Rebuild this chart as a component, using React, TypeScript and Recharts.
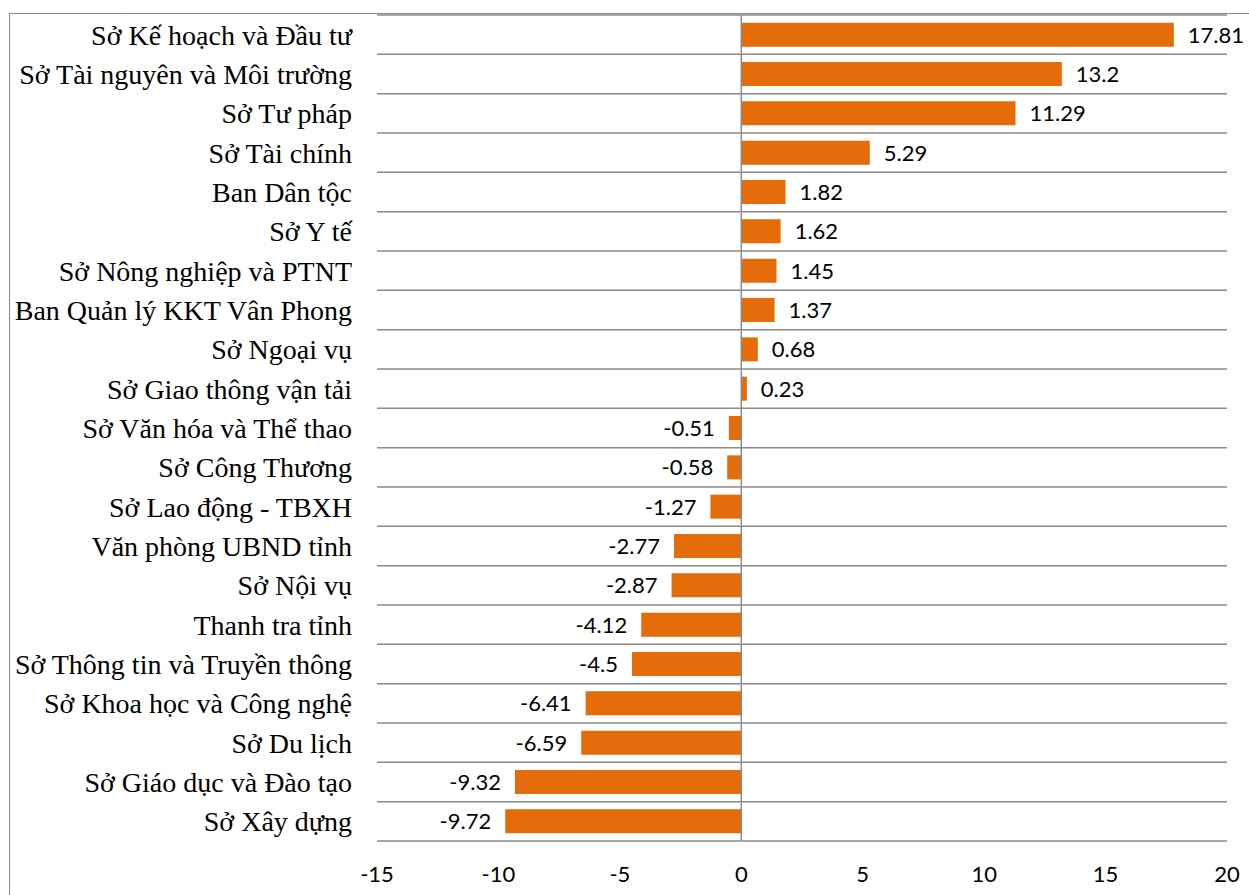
import {
  BarChart,
  Bar,
  XAxis,
  YAxis,
  CartesianGrid,
  ReferenceLine,
  LabelList,
} from "recharts";

const departments = [
  "Sở Kế hoạch và Đầu tư",
  "Sở Tài nguyên và Môi trường",
  "Sở Tư pháp",
  "Sở Tài chính",
  "Ban Dân tộc",
  "Sở Y tế",
  "Sở Nông nghiệp và PTNT",
  "Ban Quản lý KKT Vân Phong",
  "Sở Ngoại vụ",
  "Sở Giao thông vận tải",
  "Sở Văn hóa và Thể thao",
  "Sở Công Thương",
  "Sở Lao động - TBXH",
  "Văn phòng UBND tỉnh",
  "Sở Nội vụ",
  "Thanh tra tỉnh",
  "Sở Thông tin và Truyền thông",
  "Sở Khoa học và Công nghệ",
  "Sở Du lịch",
  "Sở Giáo dục và Đào tạo",
  "Sở Xây dựng",
];

const scores = [
  17.81, 13.2, 11.29, 5.29, 1.82, 1.62, 1.45, 1.37, 0.68, 0.23, -0.51, -0.58,
  -1.27, -2.77, -2.87, -4.12, -4.5, -6.41, -6.59, -9.32, -9.72,
];

const xTicks = [-15, -10, -5, 0, 5, 10, 15, 20];

const data = departments.map((name, i) => ({ name, value: scores[i] }));

const GRID = "#8a8a8a";
const ORANGE = "#E46C0A";
const NUM_FONT = "Lato, 'Liberation Sans', sans-serif";

// lines go between the rows, not through their centres
const rowBoundaries = ({ offset }: any) => {
  const n = departments.length;
  const step = offset.height / n;
  return Array.from({ length: n + 1 }, (_, i) => offset.top + i * step);
};

const ValueLabel = (props: any) => {
  const { x, y, width, height, value } = props;
  const left = Math.min(x, x + width);
  const right = Math.max(x, x + width);
  const neg = value < 0;
  return (
    <text
      x={neg ? left - 14 : right + 14}
      y={y + height / 2}
      dy="0.36em"
      textAnchor={neg ? "end" : "start"}
      fontFamily={NUM_FONT}
      fontSize={22}
      fill="#000"
    >
      {value}
    </text>
  );
};

export default function App() {
  return (
    <div
      style={{
        position: "absolute",
        left: 0,
        top: 0,
        width: 1249,
        height: 895,
        overflow: "hidden",
        background: "#fff",
      }}
    >
      {/* outer chart frame, only left and top edges are visible */}
      <div
        style={{
          position: "absolute",
          left: 9,
          top: 13,
          width: 1240,
          height: 882,
          borderLeft: `1.5px solid ${GRID}`,
          borderTop: `1.5px solid ${GRID}`,
          boxSizing: "border-box",
        }}
      />
      <div style={{ position: "absolute", left: 0, top: 0 }}>
        <BarChart
          layout="vertical"
          width={1249}
          height={895}
          data={data}
          margin={{ top: 15, right: 22, bottom: 0, left: 0 }}
          barCategoryGap="19.5%"
        >
          <CartesianGrid
            vertical={false}
            stroke={GRID}
            strokeWidth={1.5}
            horizontalCoordinatesGenerator={rowBoundaries}
          />
          <XAxis
            type="number"
            domain={[-15, 20]}
            ticks={xTicks}
            axisLine={false}
            tickLine={false}
            tickSize={0}
            tickMargin={25}
            height={54}
            tick={{ fontFamily: NUM_FONT, fontSize: 22, fill: "#000" }}
          />
          <YAxis
            type="category"
            dataKey="name"
            width={377}
            axisLine={false}
            tickLine={false}
            tickSize={0}
            tickMargin={25}
            interval={0}
            tick={{
              fontFamily: "'Liberation Serif', 'Times New Roman', serif",
              fontSize: 28,
              fill: "#000",
            }}
          />
          <ReferenceLine x={0} stroke={GRID} strokeWidth={1.5} />
          <Bar dataKey="value" fill={ORANGE} isAnimationActive={false}>
            <LabelList dataKey="value" content={ValueLabel} />
          </Bar>
        </BarChart>
      </div>
    </div>
  );
}
